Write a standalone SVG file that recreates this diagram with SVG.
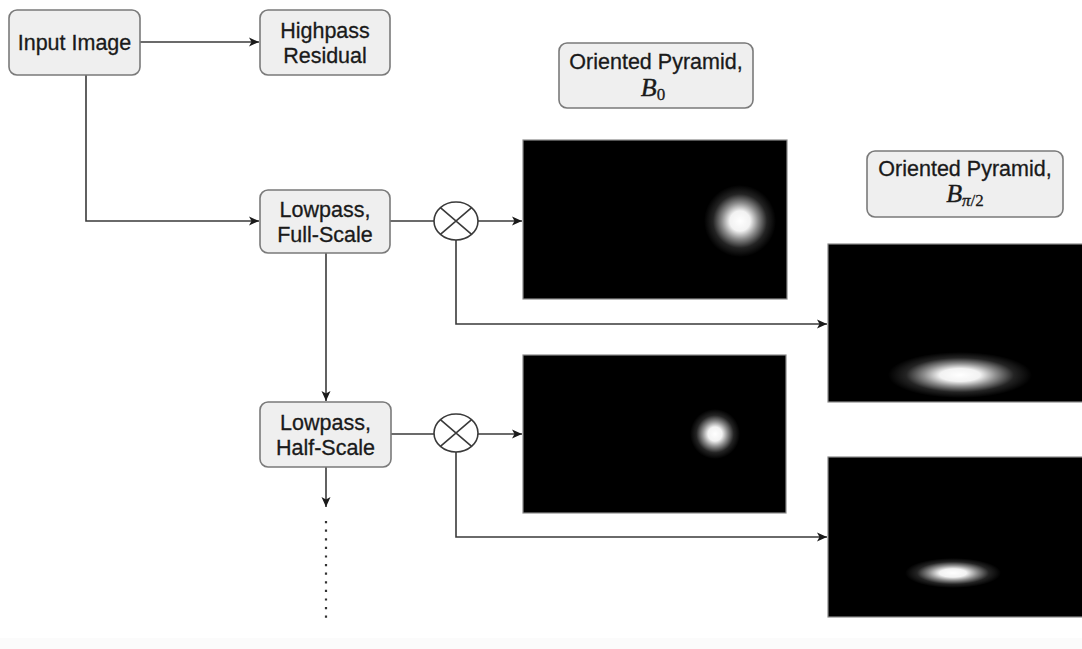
<svg xmlns="http://www.w3.org/2000/svg" width="1082" height="649" viewBox="0 0 1082 649">
<style>
.box{fill:#efefef;stroke:#7a7a7a;stroke-width:1.6}
.t{font-family:"Liberation Sans",Arial,sans-serif;font-size:21.5px;fill:#1a1a1a;stroke:#1a1a1a;stroke-width:0.3;text-anchor:middle}
.m{font-family:"Liberation Serif","Times New Roman",serif;font-style:italic;fill:#1a1a1a;stroke:#1a1a1a;stroke-width:0.4}
.s{font-family:"Liberation Serif","Times New Roman",serif;fill:#1a1a1a;stroke:#1a1a1a;stroke-width:0.3}
.c{fill:none;stroke:#3a3a3a;stroke-width:1.6}
.img{fill:#000;stroke:#8a8a8a;stroke-width:1.2}
</style>
<defs>
<marker id="ah" viewBox="0 0 10 10" refX="10" refY="5" markerWidth="10" markerHeight="10" markerUnits="userSpaceOnUse" orient="auto">
<path d="M0,0.5 L10,5 L0,9.5 L2.5,5 Z" fill="#1a1a1a"/>
</marker>
<radialGradient id="blob">
<stop offset="0" stop-color="#fff" stop-opacity="1"/>
<stop offset="0.28" stop-color="#fff" stop-opacity="0.95"/>
<stop offset="0.5" stop-color="#fff" stop-opacity="0.55"/>
<stop offset="0.75" stop-color="#fff" stop-opacity="0.14"/>
<stop offset="1" stop-color="#fff" stop-opacity="0"/>
</radialGradient>
</defs>
<rect x="0" y="0" width="1082" height="649" fill="#fff"/>
<rect x="0" y="638" width="1082" height="11" fill="#fbfbfb"/>

<g id="connectors">
<path class="c" d="M140,42 H259" marker-end="url(#ah)"/>
<path class="c" d="M86,75 V221 H259" marker-end="url(#ah)"/>
<path class="c" d="M390,221 H434"/>
<path class="c" d="M478,221 H522" marker-end="url(#ah)"/>
<path class="c" d="M456,240 V324 H827" marker-end="url(#ah)"/>
<path class="c" d="M326,253 V401" marker-end="url(#ah)"/>
<path class="c" d="M391,434 H434"/>
<path class="c" d="M478,434 H522" marker-end="url(#ah)"/>
<path class="c" d="M456,452 V537 H827" marker-end="url(#ah)"/>
<path class="c" d="M326,467 V507" marker-end="url(#ah)"/>
<path d="M326,521 V619" fill="none" stroke="#333" stroke-width="2.2" stroke-dasharray="2.2,6.4"/>
</g>

<g id="input-image">
<rect class="box" x="9" y="10" width="131" height="65" rx="8"/>
<text class="t" x="74.5" y="50">Input Image</text>
</g>
<g id="highpass-residual">
<rect class="box" x="260" y="10" width="130" height="65" rx="8"/>
<text class="t" x="325" y="38">Highpass</text>
<text class="t" x="325" y="63">Residual</text>
</g>
<g id="lowpass-full">
<rect class="box" x="260" y="190" width="130" height="63" rx="8"/>
<text class="t" x="325" y="217">Lowpass,</text>
<text class="t" x="325" y="242">Full-Scale</text>
</g>
<g id="lowpass-half">
<rect class="box" x="260" y="402" width="131" height="65" rx="8"/>
<text class="t" x="325.5" y="430">Lowpass,</text>
<text class="t" x="325.5" y="455">Half-Scale</text>
</g>
<g id="mult-1">
<ellipse class="c" cx="456" cy="221" rx="22" ry="19"/>
<path class="c" d="M440.4,207.6 L471.6,234.4 M440.4,234.4 L471.6,207.6"/>
</g>
<g id="mult-2">
<ellipse class="c" cx="456" cy="433" rx="22" ry="19"/>
<path class="c" d="M440.4,419.6 L471.6,446.4 M440.4,446.4 L471.6,419.6"/>
</g>
<g id="label-b0">
<rect class="box" x="559" y="43" width="194" height="65" rx="8"/>
<text class="t" x="656" y="69">Oriented Pyramid,</text>
<text x="653" y="96" text-anchor="middle"><tspan class="m" font-size="26">B</tspan><tspan class="s" font-size="17" dy="4">0</tspan></text>
</g>
<g id="label-bpi2">
<rect class="box" x="867" y="151" width="196" height="66" rx="8"/>
<text class="t" x="965" y="176">Oriented Pyramid,</text>
<text x="965" y="202" text-anchor="middle"><tspan class="m" font-size="26">B</tspan><tspan class="m" font-size="17" dy="4">π</tspan><tspan class="s" font-size="17">/2</tspan></text>
</g>
<g id="image-b0-full">
<rect class="img" x="523" y="140" width="264" height="159"/>
<ellipse cx="740" cy="221" rx="36" ry="36" fill="url(#blob)"/>
</g>
<g id="image-b0-half">
<rect class="img" x="523" y="355" width="263" height="158"/>
<ellipse cx="715" cy="434" rx="25" ry="25" fill="url(#blob)"/>
</g>
<g id="image-bpi2-full">
<rect class="img" x="828" y="244" width="260" height="158"/>
<ellipse cx="960" cy="375" rx="72" ry="23" fill="url(#blob)"/>
</g>
<g id="image-bpi2-half">
<rect class="img" x="828" y="457" width="260" height="160"/>
<ellipse cx="953" cy="573" rx="48" ry="15" fill="url(#blob)"/>
</g>
</svg>
